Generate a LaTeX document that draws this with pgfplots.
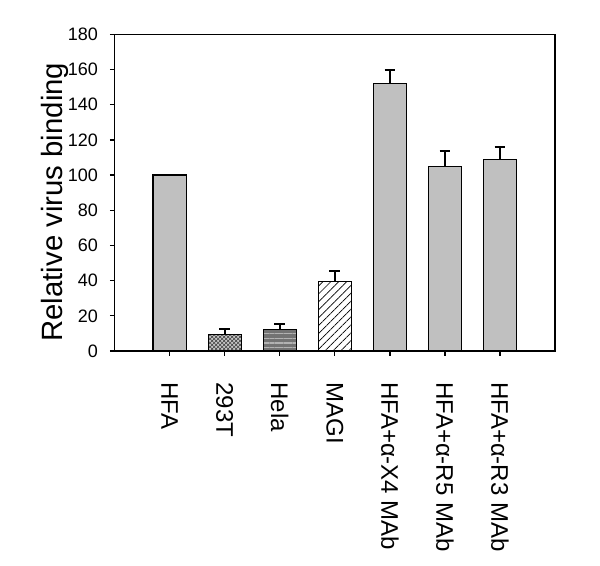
\documentclass[border=0pt]{standalone}
\usepackage{fontspec}
\setmainfont{Liberation Sans}
\usepackage{pgfplots}
\pgfplotsset{compat=1.18}
\usetikzlibrary{patterns,patterns.meta}

\definecolor{bargray}{HTML}{C0C0C0}

\pgfplotsset{
  bindbar/.style={ybar, bar shift=0pt, bar width=0.6, draw=black, line width=0.9pt},
  plusbars/.style={error bars/.cd, y dir=plus, y explicit,
    error bar style={line width=1.3pt, black},
    error mark options={line width=1.3pt, mark size=4pt, black, rotate=90}},
}

\begin{document}
\begin{tikzpicture}
\useasboundingbox (-85.9pt,-160.5pt) rectangle (364.1pt,263.25pt);
\begin{axis}[
  at={(0,0)}, anchor=south west,
  scale only axis, width=330.4pt, height=237.5pt,
  xmin=-1, xmax=7, ymin=0, ymax=180,
  ytick={0,20,...,180},
  xtick={0,1,2,3,4,5,6},
  xticklabels={HFA,293T,Hela,MAGI,HFA+α-X4 MAb,HFA+α-R5 MAb,HFA+α-R3 MAb},
  tick align=outside, xtick pos=lower, ytick pos=left,
  major tick length=3.5pt,
  tick style={line width=1pt, black},
  axis line style={line width=1pt},
  /pgf/number format/assume math mode=true,
  yticklabel={\fontsize{13.5}{16}\selectfont\pgfmathprintnumber{\tick}},
  yticklabel shift=5.5pt,
  xticklabel style={font=\fontsize{18}{21}\selectfont, rotate=-90, anchor=west},
  xticklabel shift=16.5pt,
  ylabel={Relative virus binding},
  ylabel style={font=\fontsize{22}{26}\selectfont, at={(axis description cs:-0.094,0.47)}, anchor=south},
]
% HFA
\addplot[bindbar, fill=bargray] coordinates {(0,100)};
% 293T
\addplot[bindbar, fill=gray!45, postaction={pattern=crosshatch, pattern color=black!75}, plusbars]
  coordinates {(1,9.5) +- (0,3)};
% Hela
\addplot[bindbar, fill=black!55, postaction={pattern={Lines[angle=0,distance=3.4pt,line width=1pt]}, pattern color=gray!60}, plusbars]
  coordinates {(2,12.1) +- (0,3.4)};
% MAGI
\addplot[bindbar, fill=white, postaction={pattern={Lines[angle=45,distance=4.2pt,line width=0.5pt]}, pattern color=black}, plusbars]
  coordinates {(3,39.4) +- (0,6.2)};
% antibodies
\addplot[bindbar, fill=bargray, plusbars] coordinates {(4,152.2) +- (0,7.5)};
\addplot[bindbar, fill=bargray, plusbars] coordinates {(5,104.8) +- (0,8.9)};
\addplot[bindbar, fill=bargray, plusbars] coordinates {(6,108.9) +- (0,7.2)};
\end{axis}
\end{tikzpicture}
\end{document}
